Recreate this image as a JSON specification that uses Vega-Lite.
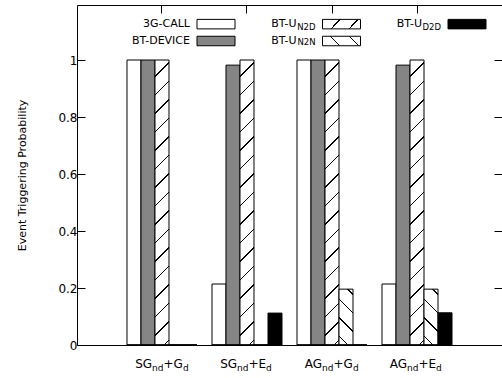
{
  "$schema": "https://vega.github.io/schema/vega-lite/v6.json",
  "width": 425,
  "height": 340,
  "autosize": "none",
  "padding": {"left": 77, "top": 5, "right": 0, "bottom": 33},
  "background": "white",
  "config": {
    "view": {"stroke": "black", "strokeWidth": 1},
    "font": "DejaVu Sans",
    "axis": {"labelFont": "DejaVu Sans", "titleFont": "DejaVu Sans", "labelColor": "black", "titleColor": "black", "tickColor": "black", "grid": false},
    "legend": {"labelFont": "DejaVu Sans", "labelColor": "black"}
  },
  "data": {
    "values": [
      {"group": "SGnd+Gd", "series": "3G-CALL", "value": 1.0},
      {"group": "SGnd+Gd", "series": "BT-DEVICE", "value": 1.0},
      {"group": "SGnd+Gd", "series": "BT-UN2D", "value": 1.0},
      {"group": "SGnd+Gd", "series": "BT-UN2N", "value": 0},
      {"group": "SGnd+Gd", "series": "BT-UD2D", "value": 0},
      {"group": "SGnd+Ed", "series": "3G-CALL", "value": 0.214},
      {"group": "SGnd+Ed", "series": "BT-DEVICE", "value": 0.982},
      {"group": "SGnd+Ed", "series": "BT-UN2D", "value": 1.0},
      {"group": "SGnd+Ed", "series": "BT-UN2N", "value": 0},
      {"group": "SGnd+Ed", "series": "BT-UD2D", "value": 0.112},
      {"group": "AGnd+Gd", "series": "3G-CALL", "value": 1.0},
      {"group": "AGnd+Gd", "series": "BT-DEVICE", "value": 1.0},
      {"group": "AGnd+Gd", "series": "BT-UN2D", "value": 1.0},
      {"group": "AGnd+Gd", "series": "BT-UN2N", "value": 0.196},
      {"group": "AGnd+Gd", "series": "BT-UD2D", "value": 0},
      {"group": "AGnd+Ed", "series": "3G-CALL", "value": 0.214},
      {"group": "AGnd+Ed", "series": "BT-DEVICE", "value": 0.982},
      {"group": "AGnd+Ed", "series": "BT-UN2D", "value": 1.0},
      {"group": "AGnd+Ed", "series": "BT-UN2N", "value": 0.196},
      {"group": "AGnd+Ed", "series": "BT-UD2D", "value": 0.113}
    ]
  },
  "resolve": {"axis": {"x": "independent", "y": "independent"}},
  "layer": [
    {
      "mark": {"type": "bar", "stroke": "black", "strokeWidth": 1},
      "encoding": {
        "x": {"field": "group", "type": "nominal", "sort": null,
          "scale": {"domain": ["SGnd+Gd", "SGnd+Ed", "AGnd+Gd", "AGnd+Ed"], "paddingInner": 0.1765, "paddingOuter": 0.588},
          "axis": {"orient": "bottom", "title": null, "domain": false, "ticks": false, "labelAngle": 0, "labelFontSize": 12, "labelPadding": 22, "labelBaseline": "alphabetic", "labelAlign": "right", "labelOffset": -9.9, "labelExpr": "slice(datum.label, 0, 2)"}},
        "xOffset": {"field": "series", "type": "nominal",
          "scale": {"domain": ["3G-CALL", "BT-DEVICE", "BT-UN2D", "BT-UN2N", "BT-UD2D"], "paddingInner": 0, "paddingOuter": 0}},
        "y": {"field": "value", "type": "quantitative",
          "scale": {"domain": [0, 1.193], "nice": false, "zero": true},
          "axis": {"orient": "left", "values": [0, 0.2, 0.4, 0.6, 0.8, 1], "format": "~g", "domain": false, "tickSize": -8, "labelPadding": 8, "labelFontSize": 12, "title": "Event Triggering Probability", "titleFontSize": 11, "titleFontWeight": "normal", "titlePadding": 30}},
        "fill": {
          "condition": [
            {"test": "datum.series === 'BT-UN2D'", "value": {"gradient": "linear", "x1": 0, "y1": 0, "x2": 0.0514, "y2": 1.0466, "stops": [
                {"offset": 0, "color": "white"},
                {"offset": 0.05268, "color": "white"}, {"offset": 0.05268, "color": "black"}, {"offset": 0.05769, "color": "black"}, {"offset": 0.05769, "color": "white"},
                {"offset": 0.11455, "color": "white"}, {"offset": 0.11455, "color": "black"}, {"offset": 0.11957, "color": "black"}, {"offset": 0.11957, "color": "white"},
                {"offset": 0.17642, "color": "white"}, {"offset": 0.17642, "color": "black"}, {"offset": 0.18144, "color": "black"}, {"offset": 0.18144, "color": "white"},
                {"offset": 0.23829, "color": "white"}, {"offset": 0.23829, "color": "black"}, {"offset": 0.24331, "color": "black"}, {"offset": 0.24331, "color": "white"},
                {"offset": 0.30017, "color": "white"}, {"offset": 0.30017, "color": "black"}, {"offset": 0.30518, "color": "black"}, {"offset": 0.30518, "color": "white"},
                {"offset": 0.36204, "color": "white"}, {"offset": 0.36204, "color": "black"}, {"offset": 0.36706, "color": "black"}, {"offset": 0.36706, "color": "white"},
                {"offset": 0.42391, "color": "white"}, {"offset": 0.42391, "color": "black"}, {"offset": 0.42893, "color": "black"}, {"offset": 0.42893, "color": "white"},
                {"offset": 0.48579, "color": "white"}, {"offset": 0.48579, "color": "black"}, {"offset": 0.49080, "color": "black"}, {"offset": 0.49080, "color": "white"},
                {"offset": 0.54766, "color": "white"}, {"offset": 0.54766, "color": "black"}, {"offset": 0.55268, "color": "black"}, {"offset": 0.55268, "color": "white"},
                {"offset": 0.60953, "color": "white"}, {"offset": 0.60953, "color": "black"}, {"offset": 0.61455, "color": "black"}, {"offset": 0.61455, "color": "white"},
                {"offset": 0.67140, "color": "white"}, {"offset": 0.67140, "color": "black"}, {"offset": 0.67642, "color": "black"}, {"offset": 0.67642, "color": "white"},
                {"offset": 0.73328, "color": "white"}, {"offset": 0.73328, "color": "black"}, {"offset": 0.73829, "color": "black"}, {"offset": 0.73829, "color": "white"},
                {"offset": 0.79515, "color": "white"}, {"offset": 0.79515, "color": "black"}, {"offset": 0.80017, "color": "black"}, {"offset": 0.80017, "color": "white"},
                {"offset": 0.85702, "color": "white"}, {"offset": 0.85702, "color": "black"}, {"offset": 0.86204, "color": "black"}, {"offset": 0.86204, "color": "white"},
                {"offset": 0.91890, "color": "white"}, {"offset": 0.91890, "color": "black"}, {"offset": 0.92391, "color": "black"}, {"offset": 0.92391, "color": "white"},
                {"offset": 0.98077, "color": "white"}, {"offset": 0.98077, "color": "black"}, {"offset": 0.98579, "color": "black"}, {"offset": 0.98579, "color": "white"},
                {"offset": 1, "color": "white"}
              ]}},
            {"test": "datum.series === 'BT-UN2N'", "value": {"gradient": "linear", "x1": 0, "y1": 1, "x2": 0.2947, "y2": -0.1767, "stops": [
                {"offset": 0, "color": "white"},
                {"offset": 0.1180, "color": "white"}, {"offset": 0.1180, "color": "black"}, {"offset": 0.1395, "color": "black"}, {"offset": 0.1395, "color": "white"},
                {"offset": 0.3827, "color": "white"}, {"offset": 0.3827, "color": "black"}, {"offset": 0.4041, "color": "black"}, {"offset": 0.4041, "color": "white"},
                {"offset": 0.6474, "color": "white"}, {"offset": 0.6474, "color": "black"}, {"offset": 0.6688, "color": "black"}, {"offset": 0.6688, "color": "white"},
                {"offset": 0.9120, "color": "white"}, {"offset": 0.9120, "color": "black"}, {"offset": 0.9335, "color": "black"}, {"offset": 0.9335, "color": "white"},
                {"offset": 1, "color": "white"}
              ]}},
            {"test": "datum.series === 'BT-DEVICE'", "value": "#858585"},
            {"test": "datum.series === 'BT-UD2D'", "value": "black"}
          ],
          "value": "white"
        }
      }
    },
    {
      "mark": {"type": "bar", "stroke": "black", "strokeWidth": 1},
      "encoding": {
        "x": {"field": "group", "type": "nominal", "sort": null,
          "scale": {"domain": ["SGnd+Gd", "SGnd+Ed", "AGnd+Gd", "AGnd+Ed"], "paddingInner": 0.1765, "paddingOuter": 0.588},
          "axis": {"orient": "top", "title": null, "domain": false, "labels": false, "tickSize": -8}},
        "xOffset": {"field": "series", "type": "nominal",
          "scale": {"domain": ["3G-CALL", "BT-DEVICE", "BT-UN2D", "BT-UN2N", "BT-UD2D"], "paddingInner": 0, "paddingOuter": 0}},
        "y": {"datum": 0, "type": "quantitative",
          "axis": {"orient": "right", "values": [0, 0.2, 0.4, 0.6, 0.8, 1], "labels": false, "domain": false, "tickSize": -8, "title": null}},
        "fill": {"field": "series", "type": "nominal",
          "scale": {"domain": ["3G-CALL", "BT-UN2D", "BT-UD2D", "BT-DEVICE", "BT-UN2N"],
            "range": [
              "white",
              {"expr": "{gradient: 'linear', x1: 0, y1: 0, x2: 1.1712, y2: 0.2774, stops: [{offset: 0, color: 'white'}, {offset: 0.3564, color: 'white'}, {offset: 0.3564, color: 'black'}, {offset: 0.3883, color: 'black'}, {offset: 0.3883, color: 'white'}, {offset: 0.7394, color: 'white'}, {offset: 0.7394, color: 'black'}, {offset: 0.7713, color: 'black'}, {offset: 0.7713, color: 'white'}, {offset: 1, color: 'white'}]}"},
              "black",
              "#858585",
              {"expr": "{gradient: 'linear', x1: 0, y1: 1, x2: 1.1712, y2: 0.7226, stops: [{offset: 0, color: 'white'}, {offset: 0.3457, color: 'white'}, {offset: 0.3457, color: 'black'}, {offset: 0.3777, color: 'black'}, {offset: 0.3777, color: 'white'}, {offset: 0.75, color: 'white'}, {offset: 0.75, color: 'black'}, {offset: 0.7819, color: 'black'}, {offset: 0.7819, color: 'white'}, {offset: 1, color: 'white'}]}"}
            ]},
          "legend": {"orient": "none", "legendX": 129, "legendY": 9, "columns": 3, "direction": "horizontal", "title": null, "padding": 0,
            "gridAlign": "all",
            "symbolType": "M-2,-0.5H2V0.5H-2Z", "symbolSize": 361, "symbolStrokeColor": "black", "symbolStrokeWidth": 1,
            "labelFontSize": 11, "labelAlign": "right", "labelOffset": -36, "columnPadding": 33.5, "rowPadding": -3,
            "labelExpr": "indexof(datum.label, 'BT-U') === 0 ? 'BT-U' : datum.label",
            "encode": {
              "labels": {"update": {"dx": [{"test": "indexof(datum.value, 'BT-U') === 0", "value": -19}, {"value": 0}]}},
              "symbols": {"update": {"stroke": {"value": "black"}, "strokeWidth": {"value": 1}}}}}}
      }
    },
    {
      "mark": {"type": "rule", "opacity": 0},
      "encoding": {
        "x": {"field": "group", "type": "nominal", "sort": null,
          "scale": {"domain": ["SGnd+Gd", "SGnd+Ed", "AGnd+Gd", "AGnd+Ed"], "paddingInner": 0.1765, "paddingOuter": 0.588},
          "axis": {"orient": "bottom", "title": null, "domain": false, "ticks": false, "labelAngle": 0, "labelFontSize": 9, "labelPadding": 25, "labelBaseline": "alphabetic", "labelAlign": "right", "labelOffset": 1.5, "labelExpr": "slice(datum.label, 2, 4)"}},
        "stroke": {"field": "series", "type": "nominal",
          "scale": {"domain": ["3G-CALL", "BT-UN2D", "BT-UD2D", "BT-DEVICE", "BT-UN2N", "-"],
            "range": ["white", "white", "white", "white", "white", "white"]},
          "legend": {"orient": "none", "legendX": 129, "legendY": 12, "columns": 3, "direction": "horizontal", "title": null, "padding": 0,
            "gridAlign": "all",
            "symbolType": "M-2,-0.5H2V0.5H-2Z", "symbolSize": 361, "symbolStrokeWidth": 1, "symbolOpacity": 0,
            "labelFontSize": 8.5, "labelAlign": "right", "labelOffset": -36, "columnPadding": 61.5, "rowPadding": -3, "labelOpacity": 1,
            "labelExpr": "indexof(datum.label, 'BT-U') === 0 ? slice(datum.label, 4) : ''",
            "encode": {"symbols": {"update": {"stroke": {"value": "transparent"}, "fill": {"value": "transparent"}}}, "labels": {"update": {"opacity": {"value": 1}}}}}}
      }
    },
    {
      "mark": {"type": "rule", "opacity": 0},
      "encoding": {
        "x": {"field": "group", "type": "nominal", "sort": null,
          "scale": {"domain": ["SGnd+Gd", "SGnd+Ed", "AGnd+Gd", "AGnd+Ed"], "paddingInner": 0.1765, "paddingOuter": 0.588},
          "axis": {"orient": "bottom", "title": null, "domain": false, "ticks": false, "labelAngle": 0, "labelFontSize": 12, "labelPadding": 22, "labelBaseline": "alphabetic", "labelAlign": "left", "labelOffset": 1.5, "labelExpr": "slice(datum.label, 4, 6)"}}
      }
    },
    {
      "mark": {"type": "rule", "opacity": 0},
      "encoding": {
        "x": {"field": "group", "type": "nominal", "sort": null,
          "scale": {"domain": ["SGnd+Gd", "SGnd+Ed", "AGnd+Gd", "AGnd+Ed"], "paddingInner": 0.1765, "paddingOuter": 0.588},
          "axis": {"orient": "bottom", "title": null, "domain": false, "ticks": false, "labelAngle": 0, "labelFontSize": 9, "labelPadding": 25, "labelBaseline": "alphabetic", "labelAlign": "left",
            "labelOffset": {"condition": {"test": "indexof(datum.label, '+G') >= 0", "value": 20.9}, "value": 19.1},
            "labelExpr": "slice(datum.label, 6, 7)"}}
      }
    }
  ]
}
